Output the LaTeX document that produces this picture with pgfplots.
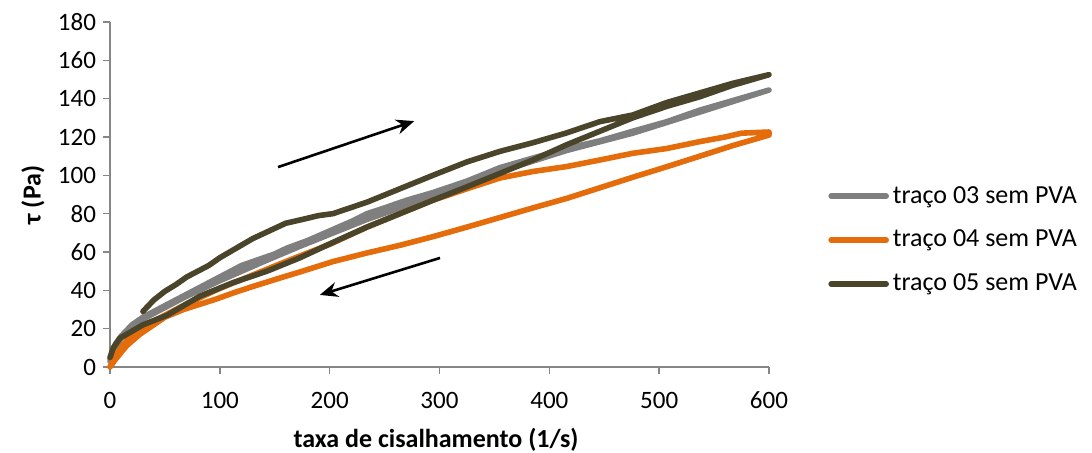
\documentclass[border=0pt]{standalone}
\usepackage{pgfplots}
\pgfplotsset{compat=1.18}
\usepackage{fontspec}
\setmainfont{Carlito}
\usetikzlibrary{arrows.meta}
\definecolor{c03}{HTML}{7F7F7F}
\definecolor{c04}{HTML}{E46C0A}
\definecolor{c05}{HTML}{4A452A}
\definecolor{axgray}{HTML}{868686}
\begin{document}
\begin{tikzpicture}
\begin{axis}[
  scale only axis,
  width=329.5pt, height=172.5pt,
  xmin=0, xmax=600, ymin=0, ymax=180,
  xtick={0,100,...,600}, ytick={0,20,...,180},
  axis x line=bottom, axis y line=left,
  axis line style={-, axgray, line width=0.8pt},
  tick style={axgray, line width=0.8pt},
  tick align=outside, major tick length=3.5pt,
  /pgf/number format/assume math mode=true,
  ticklabel style={font=\fontsize{12.5}{14}\selectfont, text=black},
  xticklabel style={yshift=-5.5pt},
  xlabel={\textbf{taxa de cisalhamento (1/s)}},
  ylabel={\textbf{τ (Pa)}},
  label style={font=\fontsize{13}{15}\selectfont},
  xlabel style={at={(axis description cs:0.4947,-0.2116)}, anchor=center},
  ylabel style={at={(axis description cs:-0.117,0.4986)}, anchor=center},
  legend style={at={(axis description cs:1.0895,0.368)}, anchor=west, draw=none, fill=none, inner sep=0pt,
    font=\fontsize{13}{15}\selectfont, row sep=8pt},
  legend cell align=left,
  legend image code/.code={\draw[#1] (0pt,0pt) -- (27.5pt,0pt);},
  every axis plot/.append style={line width=2.8pt, line join=round, line cap=round},
  clip=false,
]
\addplot[c03] coordinates {
(0,4) (5,12) (10,16) (20,22) (30,26) (50,32) (70,38) (90,44) (100,47) (110,50) (120,53) (135,56) (150,59) (161,62) (180,66) (200,71) (220,76) (234,80) (250,83) (270,87) (294,91) (325,97) (355,104) (385,109) (416,114) (446,118) (476,123) (507,128) (537,134) (567,139) (600,144.5)
(537,133) (476,122) (416,113) (355,102) (294,89) (234,77) (173,63) (140,55) (100,45) (70,37) (50,31) (30,25) (20,21) (10,15) (0,3)
};
\addlegendentry{traço 03 sem PVA}
\addplot[c04] coordinates {
(0,0) (5,6) (10,10) (20,17) (30,21) (50,27) (70,33) (100,41) (130,48) (160,55) (200,64) (234,73) (264,80) (294,87) (325,93) (355,98.6) (385,102) (416,104.6) (446,108) (476,111.5) (507,114) (537,117.6) (560,120) (575,122) (600,122.6)
(600,121) (567,115.5) (537,110) (507,104.5) (476,99) (446,93.5) (416,88) (385,83) (355,78) (325,73) (294,68) (264,63.5) (234,59.5) (203,55) (173,49.6) (158,47) (130,42) (112,38.6) (97,35.5) (67,30) (50,26) (27,17) (15,11) (5,4) (0,0)
};
\addlegendentry{traço 04 sem PVA}
\addplot[c05] coordinates {
(30,29) (40,35) (50,39.5) (60,43) (70,47) (80,50) (90,53) (100,57) (115,62) (130,67) (145,71) (160,75) (173,76.7) (190,79) (203,80) (234,86) (264,93) (294,100) (325,107) (355,112.5) (385,117) (415,122) (446,128) (476,131.5) (507,138) (537,143) (567,148) (600,152.5)
(567,147) (537,141) (507,136) (476,130) (446,123) (416,116) (385,108) (355,101) (325,94) (294,87) (264,80) (234,73) (203,65) (173,57) (143,50) (112,44) (82,37) (52,27) (30,22) (21,19) (9,15) (3,10) (0,5)
};
\addlegendentry{traço 05 sem PVA}
\draw[-{Stealth[length=9pt,width=7.5pt]}, line width=1.3pt] (axis cs:153,104.3) -- (axis cs:277,128.3);
\draw[-{Stealth[length=9pt,width=7.5pt]}, line width=1.3pt] (axis cs:300.5,56.9) -- (axis cs:191,37.6);
\coordinate (sw) at (rel axis cs:0,0);
\end{axis}
\pgfresetboundingbox
\path[use as bounding box] ([xshift=-55pt,yshift=-43pt]sw) rectangle ([xshift=491pt,yshift=183.5pt]sw);
\end{tikzpicture}
\end{document}
